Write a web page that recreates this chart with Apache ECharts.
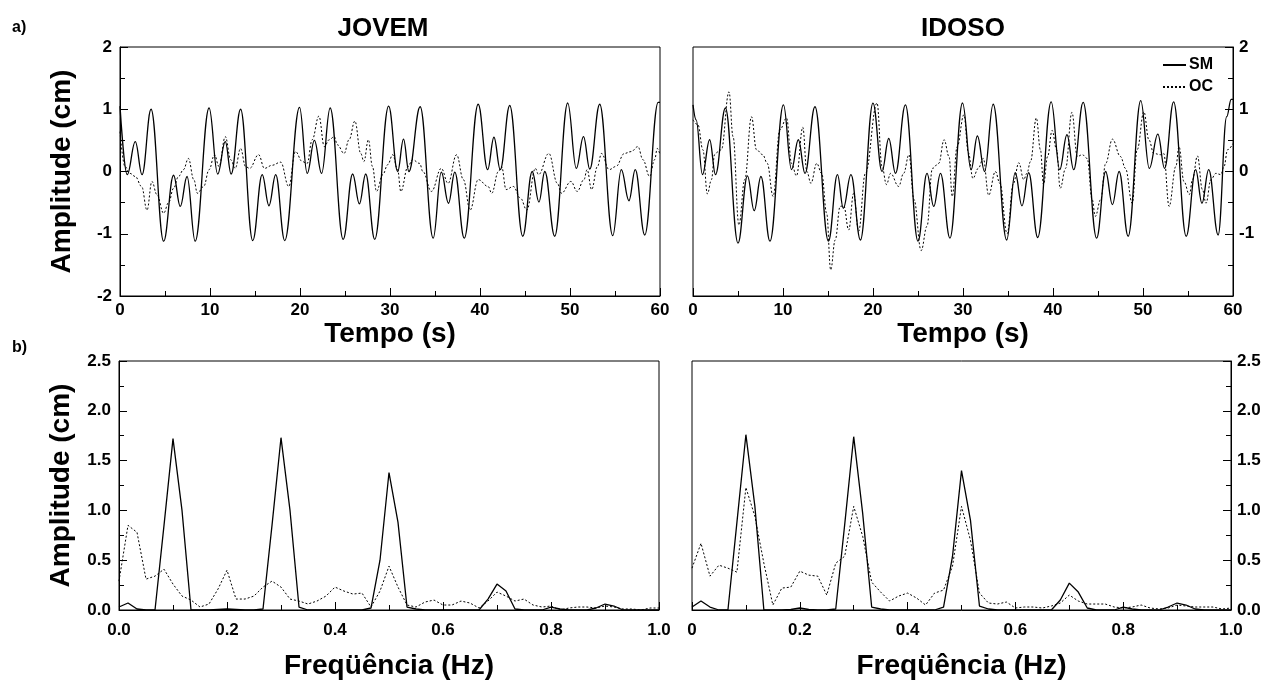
<!DOCTYPE html>
<html>
<head>
<meta charset="utf-8">
<title>JOVEM / IDOSO</title>
<script src="https://cdn.jsdelivr.net/npm/echarts@6/dist/echarts.min.js"></script>
<style>
  html, body { margin: 0; padding: 0; background: #fff; }
  #chart { width: 1281px; height: 684px; }
</style>
</head>
<body>
<div id="chart"></div>
<script>
// a) sinais no tempo (s) e amplitude (cm)
const tempoJovemSM = [0, 0.8, 1.7, 2.45, 3.45, 4.85, 5.95, 6.7, 7.45, 8.35,
  9.9, 10.85, 11.7, 12.35, 13.4, 14.75, 15.8, 16.55, 17.3, 18.3,
  19.95, 20.8, 21.6, 22.4, 23.35, 24.8, 25.85, 26.6, 27.3, 28.3,
  29.85, 30.85, 31.5, 32.1, 33.35, 34.8, 35.7, 36.5, 37.2, 38.25,
  39.8, 40.85, 41.55, 42.25, 43.3, 44.75, 45.8, 46.55, 47.2, 48.3,
  49.75, 50.7, 51.5, 52.2, 53.3, 54.75, 55.7, 56.55, 57.25, 58.3,
  59.8, 60];
const ampJovemSM = [1.05, -0.05, 0.48, -0.05, 1.0, -1.12, -0.06, -0.56, -0.08, -1.12,
  1.02, -0.04, 0.48, -0.04, 1.0, -1.11, -0.05, -0.55, -0.05, -1.11,
  1.03, -0.03, 0.5, -0.03, 1.02, -1.09, -0.04, -0.52, -0.04, -1.09,
  1.05, 0.0, 0.52, 0.0, 1.04, -1.07, -0.01, -0.51, -0.01, -1.07,
  1.08, 0.03, 0.55, 0.03, 1.06, -1.04, 0.0, -0.49, 0.0, -1.04,
  1.1, 0.05, 0.56, 0.04, 1.08, -1.03, 0.03, -0.47, 0.03, -1.02,
  1.11, 1.11];

const tempoJovemOC = [0, 0.55, 1.1, 1.7, 2.4, 3.0, 3.55, 4.1, 4.85, 5.4,
  5.95, 6.5, 7.05, 7.6, 8.2, 8.6, 9.3, 9.9, 10.5, 11.0,
  11.7, 12.3, 12.8, 13.4, 13.95, 14.4, 15.4, 16.05, 16.9, 17.85,
  18.75, 19.5, 20.25, 20.8, 21.35, 22.1, 22.7, 23.25, 23.8, 24.15,
  24.9, 25.45, 26.1, 26.75, 27.1, 27.6, 28.05, 28.5, 29.2, 29.75,
  30.3, 30.85, 31.2, 32.0, 32.5, 33.3, 33.65, 34.6, 35.7, 36.45,
  37.4, 38.15, 38.9, 39.8, 40.9, 41.3, 42.05, 42.4, 42.9, 43.7,
  44.5, 45.2, 46.15, 46.5, 47.65, 48.6, 49.05, 50.1, 50.8, 51.55,
  51.9, 52.4, 53.05, 53.5, 54.35, 55.1, 56.05, 56.8, 57.55, 58.1,
  58.85, 59.4, 59.7, 60];
const ampJovemOC = [0.64, 0.08, -0.03, -0.08, -0.24, -0.62, -0.16, -0.37, -0.67, -0.5,
  -0.27, -0.08, 0.03, 0.21, -0.13, -0.35, -0.24, 0.03, 0.27, 0.08,
  0.56, 0.19, 0.05, 0.37, 0.08, 0.05, 0.27, 0.05, 0.1, 0.15,
  -0.24, 0.32, 0.16, 0.13, 0.51, 0.89, 0.4, 0.51, 0.56, 0.43,
  0.29, 0.51, 0.81, 0.29, 0.16, 0.51, 0.08, -0.32, -0.05, 0.11,
  0.27, 0.03, -0.32, 0.08, 0.19, 0.13, 0.0, -0.32, 0.05, -0.19,
  0.27, -0.13, -0.62, -0.13, -0.24, -0.35, 0.0, 0.08, -0.29, -0.24,
  -0.43, -0.62, 0.05, -0.05, 0.29, -0.19, -0.35, -0.16, -0.32, -0.13,
  0.03, -0.29, 0.08, 0.29, 0.03, 0.08, 0.29, 0.32, 0.4, 0.19,
  -0.08, 0.19, 0.37, 0.27];

const tempoIdosoSM = [0, 0.35, 1.05, 1.85, 2.5, 3.6, 5.0, 6.05, 6.8, 7.55,
  8.55, 10.05, 10.95, 11.7, 12.45, 13.55, 15.05, 16.05, 16.7, 17.55,
  18.6, 20.0, 21.0, 21.75, 22.5, 23.6, 25.0, 26.0, 26.75, 27.5,
  28.55, 29.95, 30.9, 31.6, 32.4, 33.35, 34.85, 35.8, 36.55, 37.3,
  38.3, 39.8, 40.75, 41.55, 42.3, 43.35, 44.85, 45.85, 46.6, 47.35,
  48.35, 49.75, 50.7, 51.65, 52.4, 53.4, 54.8, 55.85, 56.55, 57.3,
  58.35, 59.3, 59.8, 60];
const ampIdosoSM = [1.07, 0.83, -0.05, 0.51, -0.05, 1.02, -1.15, -0.07, -0.63, -0.08,
  -1.12, 1.07, 0.03, 0.51, -0.03, 1.04, -1.12, -0.05, -0.59, -0.05,
  -1.1, 1.1, 0.0, 0.53, -0.03, 1.07, -1.12, -0.03, -0.56, -0.03,
  -1.07, 1.1, 0.03, 0.57, 0.0, 1.08, -1.1, -0.02, -0.55, -0.02,
  -1.06, 1.12, 0.03, 0.59, 0.03, 1.11, -1.07, 0.0, -0.53, 0.0,
  -1.04, 1.14, 0.05, 0.6, 0.05, 1.12, -1.04, 0.03, -0.51, 0.03,
  -1.02, 0.88, 1.16, 1.16];

const tempoIdosoOC = [0, 0.55, 1.1, 1.6, 2.05, 2.4, 2.8, 3.15, 4.0, 4.45,
  5.1, 5.75, 6.5, 7.05, 7.75, 8.25, 8.9, 9.65, 10.4, 10.95,
  11.5, 12.2, 12.65, 13.1, 13.75, 14.3, 14.85, 15.3, 15.8, 16.35,
  16.75, 17.3, 17.85, 18.4, 19.15, 20.45, 21.0, 21.5, 21.95, 22.85,
  23.4, 24.0, 24.55, 25.35, 26.0, 26.6, 27.3, 27.9, 28.45, 28.8,
  29.35, 30.1, 30.6, 31.1, 31.7, 32.25, 32.85, 33.6, 34.1, 34.9,
  35.6, 36.2, 36.75, 37.1, 37.5, 38.15, 38.6, 38.95, 39.4, 39.9,
  40.4, 40.8, 41.4, 42.1, 42.7, 43.25, 43.8, 44.35, 44.7, 45.3,
  45.85, 46.6, 47.5, 48.05, 48.8, 49.35, 50.1, 50.65, 51.2, 51.95,
  52.3, 52.9, 53.65, 54.0, 54.55, 55.15, 55.5, 56.05, 56.6, 57.0,
  57.55, 58.1, 58.65, 59.0, 59.4, 60];
const ampIdosoOC = [0.83, 0.75, 0.35, -0.36, -0.13, 0.27, 0.32, 0.35, 1.28, 0.56,
  -0.86, -0.13, 0.88, 0.35, 0.27, 0.13, -0.4, 0.67, 0.86, 0.13,
  -0.07, 0.71, 0.0, -0.19, 0.13, -0.03, -0.67, -1.58, -1.1, -0.56,
  -0.55, -0.94, -0.35, -0.96, -0.03, 1.1, 0.08, -0.21, -0.03, -0.24,
  -0.03, 0.27, -0.45, -1.27, -0.88, 0.05, 0.13, 0.51, 0.24, -0.4,
  0.4, 0.91, 0.3, -0.11, 0.05, 0.21, -0.38, 0.0, -0.19, -1.0,
  -0.19, 0.14, -0.13, -0.03, 0.16, 0.86, 0.35, -0.21, 0.24, 0.66,
  0.35, -0.27, 0.05, 0.95, 0.24, 0.27, 0.21, -0.45, -0.72, -0.45,
  0.13, 0.52, 0.24, 0.05, -0.51, 0.35, 0.96, 0.51, 0.29, 0.27,
  0.29, -0.56, 0.08, 0.4, -0.16, -0.37, -0.13, 0.25, -0.29, -0.51,
  -0.13, -0.03, -0.05, 0.08, 0.35, 0.45];

// b) espectros, resolucao 1/60 Hz (0 a 1 Hz)
const freqHz = Array.from({ length: 61 }, (_, k) => k / 60);
const specJovemSM = [0.03, 0.07, 0.01, 0.0, 0.0, 0.85, 1.72, 1.0, 0.0, 0.0,
  0.0, 0.005, 0.01, 0.005, 0.0, 0.0, 0.01, 0.85, 1.73, 1.0,
  0.03, 0.0, 0.0, 0.0, 0.0, 0.0, 0.0, 0.0, 0.02, 0.5,
  1.38, 0.88, 0.03, 0.01, 0.0, 0.0, 0.0, 0.0, 0.0, 0.0,
  0.0, 0.11, 0.26, 0.19, 0.01, 0.0, 0.0, 0.0, 0.03, 0.01,
  0.0, 0.0, 0.0, 0.02, 0.06, 0.04, 0.0, 0.0, 0.0, 0.0, 0.0];
const specJovemOC = [0.29, 0.85, 0.78, 0.31, 0.34, 0.41, 0.26, 0.14, 0.10, 0.03,
  0.06, 0.21, 0.40, 0.11, 0.11, 0.14, 0.23, 0.29, 0.23, 0.11,
  0.09, 0.06, 0.09, 0.14, 0.23, 0.19, 0.16, 0.17, 0.03, 0.19,
  0.44, 0.23, 0.05, 0.03, 0.08, 0.10, 0.05, 0.05, 0.09, 0.07,
  0.02, 0.09, 0.18, 0.14, 0.09, 0.11, 0.05, 0.03, 0.04, 0.00,
  0.02, 0.03, 0.03, 0.02, 0.04, 0.03, 0.01, 0.01, 0.00, 0.02, 0.02];
const specIdosoSM = [0.03, 0.09, 0.03, 0.0, 0.0, 0.88, 1.76, 1.04, 0.0, 0.0,
  0.0, 0.005, 0.02, 0.005, 0.0, 0.0, 0.01, 0.86, 1.74, 0.97,
  0.03, 0.01, 0.0, 0.0, 0.0, 0.0, 0.0, 0.0, 0.03, 0.54,
  1.4, 0.9, 0.04, 0.01, 0.0, 0.0, 0.0, 0.0, 0.0, 0.0,
  0.0, 0.1, 0.27, 0.18, 0.02, 0.0, 0.0, 0.0, 0.03, 0.01,
  0.0, 0.0, 0.0, 0.03, 0.07, 0.05, 0.01, 0.0, 0.0, 0.0, 0.0];
const specIdosoOC = [0.42, 0.67, 0.34, 0.45, 0.42, 0.38, 1.23, 0.94, 0.47, 0.05,
  0.22, 0.23, 0.39, 0.35, 0.34, 0.15, 0.47, 0.54, 1.04, 0.74,
  0.28, 0.18, 0.09, 0.14, 0.17, 0.12, 0.05, 0.17, 0.20, 0.44,
  1.04, 0.70, 0.17, 0.07, 0.06, 0.08, 0.02, 0.03, 0.03, 0.02,
  0.04, 0.07, 0.15, 0.09, 0.06, 0.06, 0.06, 0.03, 0.02, 0.03,
  0.05, 0.02, 0.01, 0.02, 0.05, 0.04, 0.03, 0.03, 0.03, 0.01, 0.02];

const FONT = "'Liberation Sans', Arial, sans-serif";
const pair = (xs, ys) => xs.map((x, i) => [x, ys[i]]);

const labelStyle = { color: "#000", fontSize: 17, fontWeight: "bold", fontFamily: FONT };
const nameStyle = { color: "#000", fontSize: 28, fontWeight: "bold", fontFamily: FONT };

function axisBase(gridIndex) {
  return {
    type: "value",
    gridIndex: gridIndex,
    axisLine: { show: true, onZero: false, lineStyle: { color: "#000", width: 1 } },
    axisTick: { show: true, inside: true, length: 8, lineStyle: { color: "#000" } },
    minorTick: { show: true, splitNumber: 2, length: 5, lineStyle: { color: "#000" } },
    splitLine: { show: false },
    minorSplitLine: { show: false },
  };
}

function tempoAxis(gridIndex) {
  return Object.assign(axisBase(gridIndex), {
    min: 0, max: 60, interval: 10,
    axisLabel: Object.assign({ margin: 6, showMinLabel: true, showMaxLabel: true }, labelStyle),
    name: "Tempo (s)", nameLocation: "middle", nameGap: 22, nameTextStyle: nameStyle,
  });
}

function freqAxis(gridIndex, zeroLabel) {
  return Object.assign(axisBase(gridIndex), {
    min: 0, max: 1, interval: 0.2,
    axisLabel: Object.assign({
      margin: 12, showMinLabel: true, showMaxLabel: true,
      formatter: (v) => (v === 0 ? zeroLabel : v.toFixed(1)),
    }, labelStyle),
    name: "Freqüência (Hz)", nameLocation: "middle", nameGap: 42, nameTextStyle: nameStyle,
  });
}

function ampAxis(gridIndex, right, showName) {
  const ax = Object.assign(axisBase(gridIndex), {
    min: -2, max: 2, interval: 1,
    position: right ? "right" : "left",
    axisLabel: Object.assign({
      margin: right ? 6 : 8, showMinLabel: true, showMaxLabel: true,
      formatter: (v) => (right && v === -2 ? "" : String(v)),
    }, labelStyle),
  });
  if (showName) {
    Object.assign(ax, { name: "Amplitude (cm)", nameLocation: "middle", nameGap: 44, nameTextStyle: nameStyle });
  }
  return ax;
}

function specAxis(gridIndex, right, showName) {
  const ax = Object.assign(axisBase(gridIndex), {
    min: 0, max: 2.5, interval: 0.5,
    position: right ? "right" : "left",
    axisLabel: Object.assign({
      margin: right ? 6 : 8, showMinLabel: true, showMaxLabel: true,
      formatter: (v) => v.toFixed(1),
    }, labelStyle),
  });
  if (showName) {
    Object.assign(ax, { name: "Amplitude (cm)", nameLocation: "middle", nameGap: 44, nameTextStyle: nameStyle });
  }
  return ax;
}

const solid = { color: "#000", width: 1.3, type: "solid" };
const dotted = { color: "#000", width: 1, type: [2, 2] };

function tempoSeries(name, idx, data, style) {
  return {
    name: name, type: "line", xAxisIndex: idx, yAxisIndex: idx,
    data: data, showSymbol: false, symbol: "none",
    smooth: 0.4, smoothMonotone: "x",
    lineStyle: style, itemStyle: { color: "#000" }, z: name === "SM" ? 3 : 2,
  };
}

function specSeries(name, idx, data, style) {
  return {
    name: name, type: "line", xAxisIndex: idx, yAxisIndex: idx,
    data: data, showSymbol: false, symbol: "none",
    lineStyle: style, itemStyle: { color: "#000" }, z: name === "SM" ? 3 : 2,
  };
}

const chart = echarts.init(document.getElementById("chart"));
const gridBox = { show: true, borderColor: "#000", borderWidth: 1, backgroundColor: "transparent" };
const titleStyle = { fontSize: 26, fontWeight: "bold", color: "#000", fontFamily: FONT };
const tagStyle = { fontSize: 16, fontWeight: "bold", color: "#000", fontFamily: FONT };

chart.setOption({
  animation: false,
  backgroundColor: "#fff",
  textStyle: { fontFamily: FONT },
  title: [
    { text: "JOVEM", left: 378, top: 11, textAlign: "center", textStyle: titleStyle },
    { text: "IDOSO", left: 958, top: 11, textAlign: "center", textStyle: titleStyle },
    { text: "a)", left: 7, top: 15, textStyle: tagStyle },
    { text: "b)", left: 7, top: 335, textStyle: tagStyle },
  ],
  legend: {
    data: ["SM", "OC"],
    orient: "vertical",
    right: 63, top: 52,
    itemWidth: 23, itemHeight: 10, itemGap: 6,
    selectedMode: false,
    itemStyle: { opacity: 0 },
    textStyle: { color: "#000", fontSize: 16, fontWeight: "bold", fontFamily: FONT, padding: [0, 0, 0, -2] },
  },
  grid: [
    Object.assign({ left: 120, top: 47, width: 540, height: 249 }, gridBox),
    Object.assign({ left: 693, top: 47, width: 540, height: 249 }, gridBox),
    Object.assign({ left: 119, top: 361, width: 540, height: 249 }, gridBox),
    Object.assign({ left: 692, top: 361, width: 539, height: 249 }, gridBox),
  ],
  xAxis: [tempoAxis(0), tempoAxis(1), freqAxis(2, "0.0"), freqAxis(3, "0")],
  yAxis: [ampAxis(0, false, true), ampAxis(1, true, false), specAxis(2, false, true), specAxis(3, true, false)],
  series: [
    tempoSeries("OC", 0, pair(tempoJovemOC, ampJovemOC), dotted),
    tempoSeries("SM", 0, pair(tempoJovemSM, ampJovemSM), solid),
    tempoSeries("OC", 1, pair(tempoIdosoOC, ampIdosoOC), dotted),
    tempoSeries("SM", 1, pair(tempoIdosoSM, ampIdosoSM), solid),
    specSeries("OC", 2, pair(freqHz, specJovemOC), dotted),
    specSeries("SM", 2, pair(freqHz, specJovemSM), solid),
    specSeries("OC", 3, pair(freqHz, specIdosoOC), dotted),
    specSeries("SM", 3, pair(freqHz, specIdosoSM), solid),
  ],
});
</script>
</body>
</html>
